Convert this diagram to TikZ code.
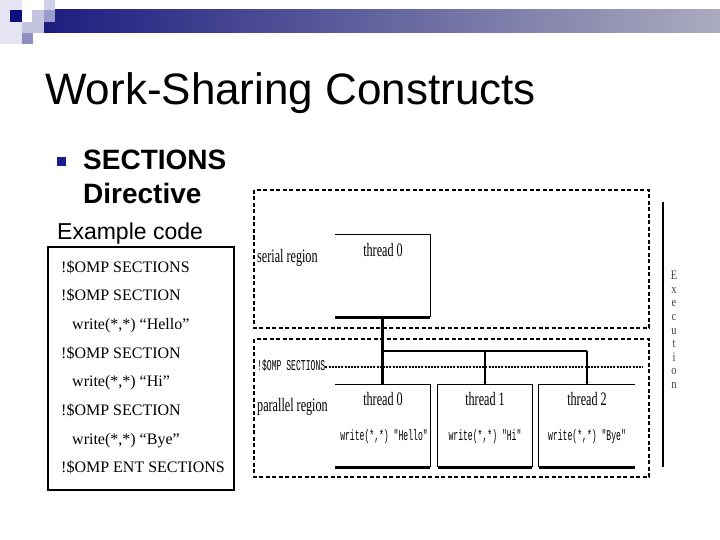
\documentclass[tikz,border=0pt]{standalone}
\usepackage{fontspec}
\setmainfont{Liberation Sans}
\newfontfamily\codefont{Liberation Serif}
\newfontfamily\diagfont[FakeStretch=0.64]{Liberation Serif}
\newfontfamily\execfont[FakeStretch=0.8]{Liberation Serif}
\newfontfamily\diagmono[FakeStretch=0.54]{Liberation Mono}
\usetikzlibrary{arrows.meta}
\definecolor{navy}{HTML}{10107A}
\definecolor{barL}{HTML}{1C1C80}
\definecolor{barR}{HTML}{ABABBF}
\definecolor{sqpale}{HTML}{E4E4F2}
\definecolor{sqlav}{HTML}{C4C4E0}
\definecolor{sqmed}{HTML}{9A9ACB}
\definecolor{sqmed2}{HTML}{8E8EC0}
\definecolor{bullet}{HTML}{1C1C8C}
\tikzset{
  dashframe/.style={line width=1.6pt, dash pattern=on 4pt off 2.5pt},
  boxedge/.style={line width=1.3pt},
  boxbase/.style={line width=2.6pt},
  trunkline/.style={line width=2.2pt},
  branchtip/.style={line width=1.2pt, -{Stealth[length=3pt,width=3pt]}},
  dotline/.style={line width=1.6pt, dash pattern=on 2pt off 1.2pt},
  lbl/.style={font=\diagfont\fontsize{19}{19}\selectfont, inner sep=0},
  mono/.style={font=\diagmono\fontsize{15}{15}\selectfont, inner sep=0},
  codeline/.style={font=\codefont\fontsize{16}{16}\selectfont, anchor=base west, inner sep=0},
  tbox/.style={minimum width=#1, minimum height=82pt, inner sep=0},
  execletter/.style={font=\execfont\fontsize{13}{13}\selectfont, text=black!75, inner sep=0, anchor=base},
}
\begin{document}
\begin{tikzpicture}[x=1pt,y=-1pt]
\useasboundingbox (0,0) rectangle (720,540);
% header decoration
\fill[sqpale] (0,0) rectangle (22,44);
\shade[left color=barL, right color=barR] (44,10) rectangle (720,33);
\fill[navy] (10,10) rectangle (22,22);
\fill[sqlav] (32,10) rectangle (44,22);
\fill[sqlav!80!white] (44,0) rectangle (55,10);
\fill[sqmed] (44,10) rectangle (55,22);
\fill[sqlav] (22,22) rectangle (44,33);
\fill[sqmed2] (22,33) rectangle (33,44);
% title
\node[anchor=base west, inner sep=0, font=\fontsize{44}{50}\selectfont] (title) at (45,105) {Work-Sharing Constructs};
% bullet
\fill[bullet] (57,157) rectangle (66,166);
\node[anchor=base west, inner sep=0, font=\bfseries\fontsize{28}{34}\selectfont] (sec) at (83,170) {SECTIONS};
\node[anchor=base west, inner sep=0, font=\bfseries\fontsize{28}{34}\selectfont] (dir) at (83,204) {Directive};
\node[anchor=base west, inner sep=0, font=\fontsize{23}{28}\selectfont] (ex) at (57,240) {Example code};
% code box
\node[draw, line width=2.6pt, minimum width=186pt, minimum height=243pt, inner sep=0] (codebox) at (141,368.5) {};
\node[codeline] (c1) at (61,272) {!\$OMP SECTIONS};
\node[codeline] (c2) at (61,300.7) {!\$OMP SECTION};
\node[codeline] (c3) at (72,329.4) {write(*,*) “Hello”};
\node[codeline] (c4) at (61,358) {!\$OMP SECTION};
\node[codeline] (c5) at (72,386.7) {write(*,*) “Hi”};
\node[codeline] (c6) at (61,415.4) {!\$OMP SECTION};
\node[codeline] (c7) at (72,444) {write(*,*) “Bye”};
\node[codeline] (c8) at (61,472.7) {!\$OMP ENT SECTIONS};
% region frames
\draw[dashframe] (254,190) rectangle (649,328);
\draw[dashframe] (254,339) rectangle (649,477);
\node[lbl, anchor=base west] (ser) at (257,262) {serial region};
\node[lbl, anchor=base west] (par) at (257,411) {parallel region};
% serial thread 0
\node[tbox=95pt] (s0) at (382.5,276) {};
\draw[boxedge] (s0.north west) -- (s0.north east) -- (s0.south east);
\draw[boxbase] (s0.south west) -- (s0.south east);
\node[lbl, anchor=base] (s0l) at (383,256) {thread 0};
% parallel threads
\node[tbox=95pt] (p0) at (382.5,426) {};
\node[tbox=94pt] (p1) at (485,426) {};
\node[tbox=96pt] (p2) at (587,426) {};
\draw[boxedge] (p0.north west) -- (p0.north east) -- (p0.south east);
\draw[boxbase] (p0.south west) -- (p0.south east);
\draw[boxedge] (p1.south west) -- (p1.north west) -- (p1.north east) -- (p1.south east);
\draw[boxbase] (p1.south west) -- (p1.south east);
\draw[boxedge] (p2.south west) -- (p2.north west) -- (p2.north east);
\draw[boxbase] (p2.south west) -- (p2.south east);
\node[lbl, anchor=base] (p0l) at (383,405) {thread 0};
\node[lbl, anchor=base] (p1l) at (485,405) {thread 1};
\node[lbl, anchor=base] (p2l) at (587,405) {thread 2};
\node[mono, anchor=base] (p0w) at (384,440) {write(*,*) "Hello"};
\node[mono, anchor=base] (p1w) at (485,440) {write(*,*) "Hi"};
\node[mono, anchor=base] (p2w) at (587,440) {write(*,*) "Bye"};
% fork
\coordinate (j) at (382.5,351);
\coordinate (j2) at (587,351);
\draw[trunkline] (s0.south) -- (p0.north);
\draw[trunkline] (j) -- (j2);
\draw[branchtip] (j -| p1.north) -- (p1.north);
\draw[branchtip] (j2) -- (p2.north);
% OMP sections marker
\node[mono, anchor=base west] (omp) at (257,370) {!\$OMP SECTIONS};
\coordinate (dotend) at (643,367);
\draw[dotline] (omp.east |- dotend) -- (dotend);
% execution axis
\coordinate (e1) at (663,202);
\coordinate (e2) at (663,467);
\draw[line width=2.5pt] (e1) -- (e2);
\foreach \ch [count=\i] in {E,x,e,c,u,t,i,o,n}
  \node[execletter] (ex\i) at (674,{266+\i*13.6}) {\ch};
\end{tikzpicture}
\end{document}
